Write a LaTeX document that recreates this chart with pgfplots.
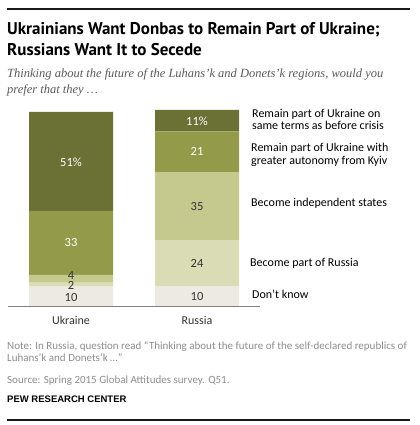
\documentclass[border=0pt]{standalone}
\usepackage{pgfplots}
\pgfplotsset{compat=1.18}
\usepackage{fontspec}
\setmainfont{Carlito}
\newfontfamily\titlefont{PT Sans}
\newfontfamily\subfont{Liberation Serif}
\newfontfamily\pewfont{Liberation Sans}
\definecolor{cA}{HTML}{6B7035}
\definecolor{cB}{HTML}{939B4B}
\definecolor{cC}{HTML}{C5C98E}
\definecolor{cD}{HTML}{D9DCB4}
\definecolor{cE}{HTML}{EDEAE4}
\definecolor{txt}{HTML}{333333}
\definecolor{note}{HTML}{8C8C8C}
\tikzset{vl/.style={font=\fontsize{12.5bp}{14bp}\selectfont, inner sep=0pt},
  lg/.style={anchor=base west, inner sep=0pt, text=black, font=\fontsize{12bp}{14bp}\selectfont},
  nt/.style={anchor=base west, inner sep=0pt, text=note, font=\fontsize{11bp}{12bp}\selectfont}}
\begin{document}
\begin{tikzpicture}
\path[use as bounding box] (0bp,0bp) rectangle (420bp,425bp);
\draw[line width=1.2bp, black!90] (7bp,416bp) -- (410bp,416bp);
\node[anchor=base west, inner sep=0pt] at (7bp,390bp) {\titlefont\bfseries\fontsize{17bp}{18bp}\selectfont Ukrainians Want Donbas to Remain Part of Ukraine;};
\node[anchor=base west, inner sep=0pt] at (7bp,369.5bp) {\titlefont\bfseries\fontsize{17bp}{18bp}\selectfont Russians Want It to Secede};
\node[anchor=base west, inner sep=0pt, text=black!65] at (7bp,347bp) {\subfont\itshape\fontsize{12.5bp}{14bp}\selectfont Thinking about the future of the Luhans’k and Donets’k regions, would you};
\node[anchor=base west, inner sep=0pt, text=black!65] at (7bp,331bp) {\subfont\itshape\fontsize{12.5bp}{14bp}\selectfont prefer that they \dots};
\begin{axis}[
  at={(8bp,119bp)}, anchor=south west,
  scale only axis, width=252bp, height=196bp,
  xmin=-0.5, xmax=1.5, ymin=0, ymax=101,
  ybar stacked, bar width=84bp,
  axis x line=bottom, axis y line=none,
  axis line style={-, black!50, line width=0.9bp},
  xtick={0,1}, xticklabels={Ukraine,Russia},
  major tick length=0pt,
  xticklabel style={font=\fontsize{12bp}{14bp}\selectfont, text=txt, yshift=-7bp},
  clip=false,
]
\addplot[fill=cE, draw=none] coordinates {(0,10) (1,10)};
\addplot[fill=cD, draw=none] coordinates {(0,2) (1,24)};
\addplot[fill=cC, draw=none] coordinates {(0,4) (1,35)};
\addplot[fill=cB, draw=none] coordinates {(0,33) (1,21)};
\addplot[fill=cA, draw=none] coordinates {(0,51) (1,11)};
\coordinate (u51) at (axis cs:0,74.3);
\coordinate (u33) at (axis cs:0,32.5);
\coordinate (u4) at (axis cs:0,15.8);
\coordinate (u2) at (axis cs:0,10.8);
\coordinate (u10) at (axis cs:0,4.6);
\coordinate (r11) at (axis cs:1,95.4);
\coordinate (r21) at (axis cs:1,79.4);
\coordinate (r35) at (axis cs:1,51.5);
\coordinate (r24) at (axis cs:1,21.8);
\coordinate (r10) at (axis cs:1,4.8);
\end{axis}
\node[vl, text=white] at (u51) {51\%};
\node[vl, text=white] at (u33) {33};
\node[vl, text=txt] at (u4) {4};
\node[vl, text=txt] at (u2) {2};
\node[vl, text=txt] at (u10) {10};
\node[vl, text=white] at (r11) {11\%};
\node[vl, text=white] at (r21) {21};
\node[vl, text=txt] at (r35) {35};
\node[vl, text=txt] at (r24) {24};
\node[vl, text=txt] at (r10) {10};
\node[lg] at (252bp,307.7bp) {Remain part of Ukraine on};
\node[lg] at (252bp,295bp) {same terms as before crisis};
\node[lg] at (251bp,273.3bp) {Remain part of Ukraine with};
\node[lg] at (251bp,260bp) {greater autonomy from Kyiv};
\node[lg] at (251bp,218.3bp) {Become independent states};
\node[lg] at (250bp,158bp) {Become part of Russia};
\node[lg] at (252bp,126bp) {Don’t know};
\node[nt] at (7bp,75bp) {Note: In Russia, question read “Thinking about the future of the self-declared republics of};
\node[nt] at (7bp,63bp) {Luhans’k and Donets’k \dots”};
\node[nt] at (7bp,41.7bp) {Source: Spring 2015 Global Attitudes survey. Q51.};
\node[anchor=base west, inner sep=0pt, font=\pewfont\bfseries\fontsize{9.5bp}{12bp}\selectfont] at (7bp,22.3bp) {PEW RESEARCH CENTER};
\draw[line width=1.2bp, black!90] (7bp,5bp) -- (410bp,5bp);
\end{tikzpicture}
\end{document}
